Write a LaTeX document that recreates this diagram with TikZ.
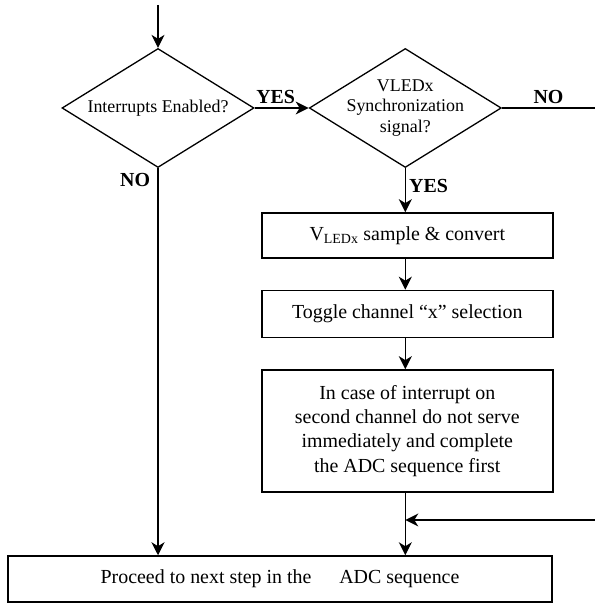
\documentclass[tikz,border=0pt]{standalone}
\usepackage{fontspec}
\setmainfont{Liberation Serif}
\usetikzlibrary{shapes.geometric, arrows.meta, positioning}

\begin{document}
\begin{tikzpicture}[
  x=1bp, y=1bp,
  font=\fontsize{20}{24.3}\selectfont,
  decision/.style={diamond, draw, line width=1.3bp, aspect=1.61, inner sep=-4bp,
                   minimum width=192bp, minimum height=119bp, align=center,
                   font=\fontsize{18}{20.5}\selectfont},
  stepbox/.style={draw, line width=1.5bp, align=center, minimum width=291bp},
  lbl/.style={font=\fontsize{20}{24}\selectfont\bfseries},
  arr/.style={-{Stealth[length=13bp, width=13bp, inset=4bp]}, line width=1.2bp},
  wire/.style={line width=1.2bp},
]
\useasboundingbox (0,0) rectangle (595,604);

% ---- decisions ----
\node[decision] (intr) at (158,496) {Interrupts Enabled?};
\node[decision, right=54bp of intr] (sync) {VLEDx\\Synchronization\\signal?};

% ---- steps ----
\node[stepbox, minimum height=45bp, below=44bp of sync, xshift=2bp] (sample) {V\textsubscript{LEDx} sample \& convert};
\node[stepbox, minimum height=47bp, below=31bp of sample] (toggle) {Toggle channel ``x'' selection};
\node[stepbox, minimum height=122bp, below=31bp of toggle] (adcnote) {In case of interrupt on\\second channel do not serve\\immediately and complete\\the ADC sequence first};
\node[stepbox, minimum height=46bp, minimum width=544bp] (proceed) at (280,25) {Proceed to next step in the\hspace*{1.4em}ADC sequence};

% ---- free ends ----
\coordinate (entry) at (158,599);
\coordinate (nosync) at (595,496);
\coordinate (back) at (595,84);

% ---- arrows ----
\draw[arr] (entry) -- (intr.north);
\draw[arr] (intr.east) -- node[lbl, above, xshift=-6bp] {YES} (sync.west);
\draw[wire] (sync.east) -- node[lbl, above] {NO} (nosync);
\draw[arr] (sync.south) -- node[lbl, right, pos=0.41] {YES} (sync.south |- sample.north);
\draw[arr] (sync |- sample.south) -- (sync |- toggle.north);
\draw[arr] (sync |- toggle.south) -- (sync |- adcnote.north);
\draw[arr] (sync |- adcnote.south) -- (sync |- proceed.north);
\draw[arr] (intr.south) -- node[lbl, left, pos=0.03, xshift=-4bp] {NO} (intr.south |- proceed.north);
\draw[arr] (back) -- (back -| sync);
\end{tikzpicture}
\end{document}
